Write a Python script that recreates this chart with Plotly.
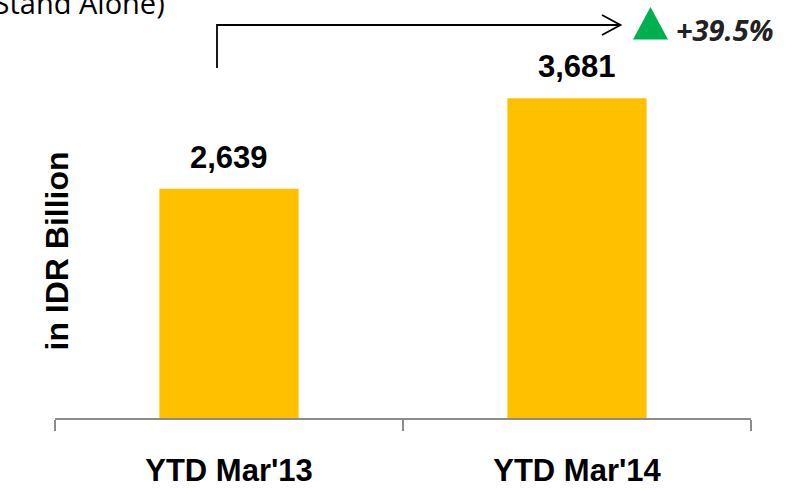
import plotly.graph_objects as go

categories = ["YTD Mar'13", "YTD Mar'14"]
values = [2639, 3681]
value_labels = ["2,639", "3,681"]
growth_label = "+39.5%"
y_title = "in IDR Billion"
subtitle = "(Stand Alone)"

W, H = 791, 490
ml, mr, mt, mb = 55, 40, 60, 72
pw, ph = W - ml - mr, H - mt - mb

def px(x):
    return (x - ml) / pw

def py(y):
    return (H - mb - y) / ph

fig = go.Figure()
fig.add_trace(go.Bar(x=categories, y=values, marker_color="#FFC000",
                     marker_line_width=0, hoverinfo="skip"))

for c, v, t in zip(categories, values, value_labels):
    fig.add_annotation(x=c, y=v, text=f"<b>{t}</b>", showarrow=False,
                       yanchor="bottom", yshift=12,
                       font=dict(family="Liberation Sans, Arial", size=31, color="#000"))

# y title
fig.add_annotation(xref="paper", yref="paper", x=px(36.5), y=py(251), text=f"<b>{y_title}</b>",
                   textangle=-90, showarrow=False,
                   font=dict(family="Liberation Sans, Arial", size=32, color="#000"))

# subtitle (cropped at top)
fig.add_annotation(xref="paper", yref="paper", x=px(167), y=py(24), text=subtitle,
                   xanchor="right", yanchor="bottom", showarrow=False,
                   font=dict(family="Open Sans", size=29, color="#000"))

# growth arrow (elbow line + open arrow head)
fig.add_shape(type="path", xref="paper", yref="paper",
              path=(f"M {px(217)} {py(68)} L {px(217)} {py(25)} L {px(620)} {py(25)} "
                    f"M {px(602)} {py(15)} L {px(620.5)} {py(25)} L {px(602)} {py(35)}"),
              line=dict(color="#000", width=1.8))
fig.add_shape(type="path", xref="paper", yref="paper",
              path=f"M {px(633)} {py(39.5)} L {px(650.5)} {py(7)} L {px(668)} {py(39.5)} Z",
              fillcolor="#00B050", line=dict(width=0))
fig.add_annotation(xref="paper", yref="paper", x=px(674), y=py(30), text=f"<b><i>{growth_label}</i></b>",
                   xanchor="left", yanchor="middle", showarrow=False,
                   font=dict(family="Open Sans", size=29, color="#222"))

fig.update_layout(
    width=W, height=H, margin=dict(l=ml, r=mr, t=mt, b=mb, autoexpand=False),
    paper_bgcolor="white", plot_bgcolor="white", showlegend=False, bargap=0.6,
    xaxis=dict(type="category", showline=True, linecolor="#8c8c8c", linewidth=1.5,
               ticks="outside", tickson="boundaries", ticklen=11, tickcolor="#8c8c8c", tickwidth=1.5,
               tickfont=dict(family="Liberation Sans, Arial", size=31, color="#000"),
               ticklabelstandoff=24, showgrid=False, zeroline=False, range=[-0.5, 1.5],
               automargin=False),
    yaxis=dict(range=[0, 4122], showticklabels=False, showgrid=False, zeroline=False,
               showline=False, ticks="", automargin=False),
)
fig.update_xaxes(tickvals=categories, ticktext=[f"<b>{c}</b>" for c in categories])

fig.write_html("out.html")
